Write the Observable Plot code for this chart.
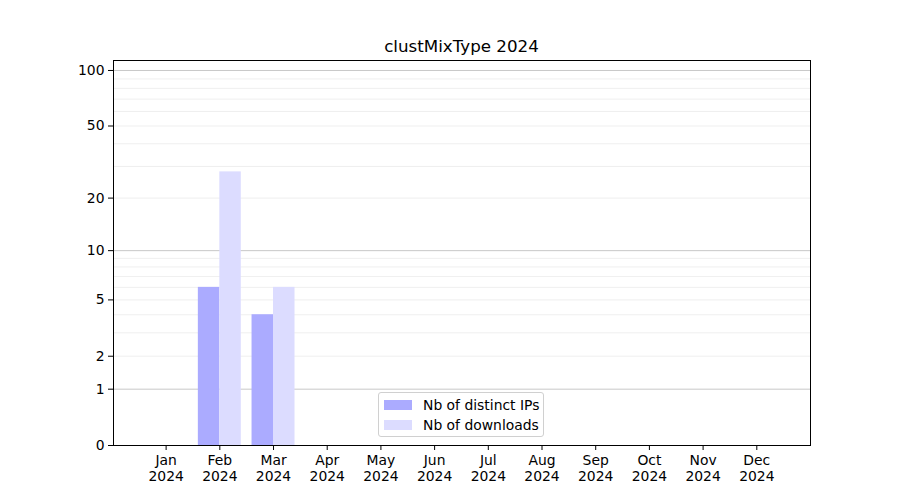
<!DOCTYPE html>
<html><head><meta charset="utf-8">
<script src="https://cdn.jsdelivr.net/npm/d3@7"></script>
<script src="https://cdn.jsdelivr.net/npm/@observablehq/plot@0.6"></script>
<style>
body{margin:0;background:#fff;font-family:"DejaVu Sans",sans-serif}
#chart{position:relative;width:900px;height:500px}
#title{position:absolute;left:113px;width:697px;top:36px;text-align:center;font-size:16.7px;line-height:20px;color:#000}
#legend{position:absolute;left:378px;top:392px;width:166px;height:45px;box-sizing:border-box;border:1px solid #d0d0d0;border-radius:3px;background:rgba(255,255,255,0.8);font-size:13.9px;color:#000}
.item{position:absolute;left:5px;height:20px;display:flex;align-items:center}
.sw{width:28px;height:10px;margin-right:11px}
</style>
</head><body>
<div id="chart"></div>
<script>
const titleText = "clustMixType 2024";
const months = ["Jan","Feb","Mar","Apr","May","Jun","Jul","Aug","Sep","Oct","Nov","Dec"];
const year = "2024";
const distinctIPs = [0,6,4,0,0,0,0,0,0,0,0,0];
const downloads   = [0,28,6,0,0,0,0,0,0,0,0,0];
const seriesNames = ["Nb of distinct IPs","Nb of downloads"];
const seriesColors = ["#ababff","#dcdcff"];
const yTicks = [0,1,2,5,10,20,50,100];
const majorGrid = [1,10,100];
const minorGrid = [2,3,4,5,6,7,8,9,20,30,40,50,60,70,80,90];

const data = months.map((m,i)=>({m:i+1, ips:distinctIPs[i], dl:downloads[i]}));

const plot = Plot.plot({
  width: 900, height: 500,
  marginLeft: 113, marginRight: 90, marginTop: 60, marginBottom: 55,
  style: {fontFamily: '"DejaVu Sans", sans-serif', fontSize: "13.9px", color: "#000", background: "#fff"},
  x: {type: "linear", domain: [0.02, 13.0]},
  y: {type: "symlog", constant: 1, domain: [0, 113.2]},
  marks: [
    Plot.ruleY(minorGrid, {stroke: "#ebebeb", strokeWidth: 0.8}),
    Plot.ruleY(majorGrid, {stroke: "#c8c8c8", strokeWidth: 1}),
    Plot.rectY(data.filter(d=>d.ips>0), {x1: d=>d.m-0.4, x2: d=>d.m, y: "ips", fill: seriesColors[0], inset: 0}),
    Plot.rectY(data.filter(d=>d.dl>0), {x1: d=>d.m, x2: d=>d.m+0.4, y: "dl", fill: seriesColors[1], inset: 0}),
    Plot.axisY({ticks: yTicks, tickFormat: d=>String(d), tickSize: 5, tickPadding: 4, label: null, fontSize: 13.9}),
    Plot.axisX({ticks: months.map((m,i)=>i+1), tickFormat: d=>months[d-1]+"\n"+year, tickSize: 5, tickPadding: 3, label: null, fontSize: 13.9, lineHeight: 1.15}),
    Plot.frame({stroke: "#000", strokeWidth: 1})
  ]
});
const chart = document.getElementById("chart");
chart.appendChild(plot);
plot.style.position = "absolute"; plot.style.left = "0"; plot.style.top = "0";

const t = document.createElement("div"); t.id = "title"; t.textContent = titleText; chart.appendChild(t);
const lg = document.createElement("div"); lg.id = "legend";
seriesNames.forEach((n,i)=>{
  const it = document.createElement("div"); it.className = "item"; it.style.top = (2 + i*20) + "px";
  const sw = document.createElement("div"); sw.className = "sw"; sw.style.background = seriesColors[i];
  const tx = document.createElement("span"); tx.textContent = n;
  it.appendChild(sw); it.appendChild(tx); lg.appendChild(it);
});
chart.appendChild(lg);
</script>
</body></html>
